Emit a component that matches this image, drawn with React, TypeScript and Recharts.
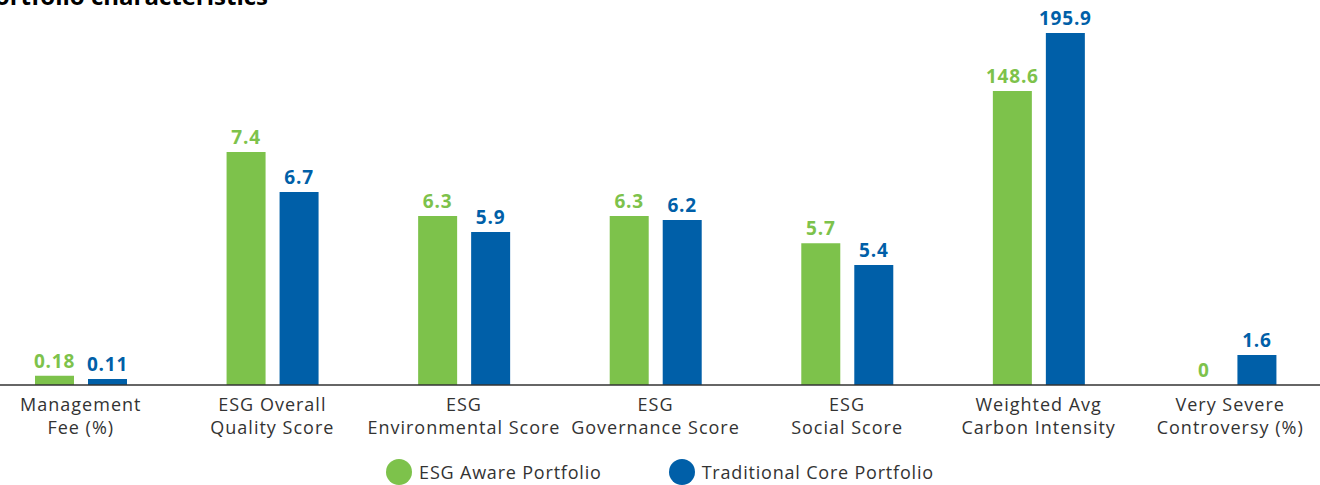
import React from 'react';
import { BarChart, Bar, XAxis, YAxis, Legend, LabelList } from 'recharts';

const title = 'Portfolio characteristics';
const categoryLine1 = ['Management', 'ESG Overall', 'ESG', 'ESG', 'ESG', 'Weighted Avg', 'Very Severe'];
const categoryLine2 = ['Fee (%)', 'Quality Score', 'Environmental Score', 'Governance Score', 'Social Score', 'Carbon Intensity', 'Controversy (%)'];
const seriesNames = ['ESG Aware Portfolio', 'Traditional Core Portfolio'];
const esgAwareValues = [0.18, 7.4, 6.3, 6.3, 5.7, 148.6, 0];
const traditionalCoreValues = [0.11, 6.7, 5.9, 6.2, 5.4, 195.9, 1.6];
// Drawn bar heights on an index scale (tallest bar = 100);
// the source draws each category on its own, unlabeled scale.
const esgAwareBarHeights = [2.6, 66.2, 48.0, 48.0, 40.3, 83.5, 0];
const traditionalCoreBarHeights = [1.7, 54.8, 43.5, 46.9, 34.1, 100, 8.5];

const GREEN = '#7DC24B';
const BLUE = '#005FA8';
const TEXT = '#333333';

const data = categoryLine1.map((l1, i) => ({
  category: `${l1} ${categoryLine2[i]}`,
  esgHeight: esgAwareBarHeights[i],
  coreHeight: traditionalCoreBarHeights[i],
  esgLabel: String(esgAwareValues[i]),
  coreLabel: String(traditionalCoreValues[i]),
}));

// keep zero-valued bars in the layout (invisibly thin) so their value label is still drawn
const keepZeroBar = (value: any) => (Number(value) === 0 ? 0.01 : 0);

const CategoryTick = (props: any) => {
  const { x, y, payload } = props;
  const i = data.findIndex((d) => d.category === payload.value);
  return (
    <g>
      <text x={x} y={y} textAnchor="middle" fill={TEXT} fontSize={18} letterSpacing={1}>
        <tspan x={x} dy={18}>{categoryLine1[i]}</tspan>
        <tspan x={x} dy={22.5}>{categoryLine2[i]}</tspan>
      </text>
    </g>
  );
};

const LegendContent = () => {
  const colors = [GREEN, BLUE];
  return (
    <div
      style={{
        display: 'flex',
        justifyContent: 'center',
        alignItems: 'center',
        height: 45,
        paddingTop: 18,
        boxSizing: 'border-box',
      }}
    >
      {seriesNames.map((name, i) => (
        <div key={name} style={{ display: 'flex', alignItems: 'center', marginLeft: i === 0 ? 0 : 67 }}>
          <div style={{ width: 26, height: 26, borderRadius: '50%', background: colors[i], marginRight: 7 }} />
          <span style={{ fontSize: 18, color: TEXT, letterSpacing: 0.8, lineHeight: '26px' }}>{name}</span>
        </div>
      ))}
    </div>
  );
};

const labelStyle = { fontSize: 19, fontWeight: 700, letterSpacing: 0.8 };

export default function App() {
  return (
    <div
      style={{
        position: 'absolute',
        left: 0,
        top: 0,
        width: 1320,
        height: 485,
        overflow: 'hidden',
        background: '#ffffff',
        fontFamily: "'Open Sans', sans-serif",
      }}
    >
      <div style={{ position: 'absolute', left: -15, top: 0 }}>
        <BarChart
          width={1350}
          height={485}
          data={data}
          margin={{ top: 33, right: 9, bottom: 0, left: 0 }}
          barGap={14}
          barSize={39}
        >
          <XAxis
            dataKey="category"
            interval={0}
            height={55}
            tickLine={false}
            axisLine={{ stroke: '#333333', strokeWidth: 1.5 }}
            tick={<CategoryTick />}
          />
          <YAxis hide domain={[0, 100]} allowDataOverflow />
          <Legend
            verticalAlign="bottom"
            height={45}
            content={<LegendContent />}
            wrapperStyle={{ left: 15, width: 1320, bottom: 0 }}
          />
          <Bar dataKey="esgHeight" name={seriesNames[0]} fill={GREEN} minPointSize={keepZeroBar} isAnimationActive={false}>
            <LabelList dataKey="esgLabel" position="top" offset={8} fill={GREEN} {...labelStyle} />
          </Bar>
          <Bar dataKey="coreHeight" name={seriesNames[1]} fill={BLUE} minPointSize={keepZeroBar} isAnimationActive={false}>
            <LabelList dataKey="coreLabel" position="top" offset={8} fill={BLUE} {...labelStyle} />
          </Bar>
        </BarChart>
      </div>
      <svg width={1320} height={40} style={{ position: 'absolute', left: 0, top: 0 }}>
        <text x={268} y={5} textAnchor="end" fontSize={24} fontWeight={700} fill="#000000">
          {title}
        </text>
      </svg>
    </div>
  );
}
